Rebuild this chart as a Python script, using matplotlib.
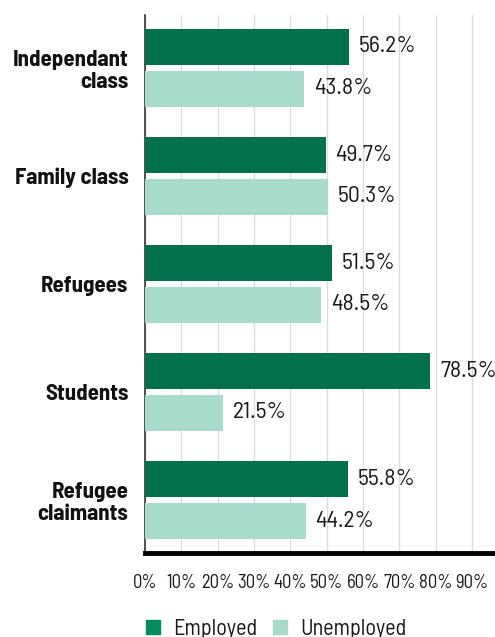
import matplotlib
matplotlib.use('Agg')
import matplotlib.pyplot as plt
from matplotlib.patches import Rectangle
import numpy as np

# data
categories = ['Independant\nclass', 'Family class', 'Refugees', 'Students', 'Refugee\nclaimants']
employed = [56.2, 49.7, 51.5, 78.5, 55.8]
unemployed = [43.8, 50.3, 48.5, 21.5, 44.2]
tick_values = [0, 10, 20, 30, 40, 50, 60, 70, 80, 90]
legend_labels = ['Employed', 'Unemployed']

DARK = '#03704B'
LIGHT = '#A8DBCB'
FONT = ['Barlow Semi Condensed', 'DejaVu Sans']

plt.rcParams['font.family'] = FONT

W, H = 495, 637
fig = plt.figure(figsize=(W / 100, H / 100), dpi=100)
ax = fig.add_axes([145 / W, 1 - 553 / H, 1 - 145 / W, (553 - 15) / H])

y = np.arange(len(categories))
h = 0.333
off = 0.194

ax.barh(y - off, employed, height=h, color=DARK, zorder=3)
ax.barh(y + off, unemployed, height=h, color=LIGHT, zorder=3)

# value labels
for yi, v in zip(y, employed):
    ax.text(v + 2.7, yi - off, f'{v}%', va='center', ha='left', fontsize=17, color='#1a1a1a')
for yi, v in zip(y, unemployed):
    ax.text(v + 2.7, yi + off, f'{v}%', va='center', ha='left', fontsize=17, color='#1a1a1a')

ax.set_xlim(0, 96.3)
ax.set_ylim(len(categories) - 0.51, -0.49)
ax.set_xticks(tick_values)
ax.set_xticklabels([f'{t}%' for t in tick_values], fontsize=13.5, color='#1a1a1a')
ax.tick_params(axis='x', length=0, pad=15)
ax.set_yticks(y)
ax.set_yticklabels(categories, fontsize=16.5, fontweight='bold', linespacing=1.1, color='#111111')
ax.tick_params(axis='y', length=0, pad=12)

ax.grid(axis='x', color='#dddddd', linewidth=1, zorder=0)
ax.spines['top'].set_visible(False)
ax.spines['right'].set_visible(False)
ax.spines['left'].set_color('#333333')
ax.spines['left'].set_linewidth(1.2)
ax.spines['bottom'].set_color('black')
ax.spines['bottom'].set_linewidth(3.5)

# legend, placed by hand
legend_colors = ['#058A5C', LIGHT]
for x0, lab, col in zip([146, 273], legend_labels, legend_colors):
    fig.add_artist(Rectangle((x0 / W, 1 - 634 / H), 14 / W, 14 / H, color=col,
                             transform=fig.transFigure))
    fig.text((x0 + 27) / W, 1 - 635 / H, lab, fontsize=16, color='#1a1a1a',
             ha='left', va='baseline')

fig.savefig('out.png', dpi=100)
